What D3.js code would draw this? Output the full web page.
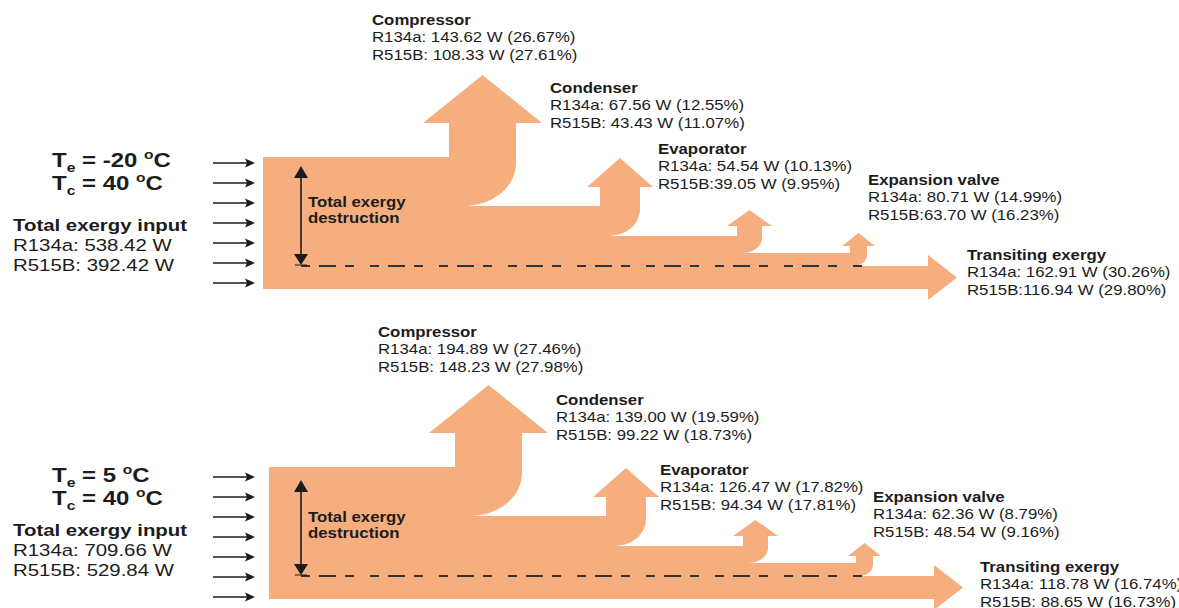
<!DOCTYPE html>
<html>
<head>
<meta charset="utf-8">
<script src="https://cdn.jsdelivr.net/npm/d3@7"></script>
<style>
  body { margin: 0; background: #fff; }
  svg { display: block; }
</style>
</head>
<body>
<div id="chart"></div>
<script>
// exergy destruction per component, two evaporating temperatures
let stages = ['Compressor', 'Condenser', 'Evaporator', 'Expansion valve', 'Transiting exergy']
let evapTemps = [-20, 5]
let condTemp = 40
let inputR134a = [538.42, 709.66]
let inputR515B = [392.42, 529.84]

let lowR134a = [143.62, 67.56, 54.54, 80.71, 162.91]
let lowR134aPct = [26.67, 12.55, 10.13, 14.99, 30.26]
let lowR515B = [108.33, 43.43, 39.05, 63.70, 116.94]
let lowR515BPct = [27.61, 11.07, 9.95, 16.23, 29.80]

let highR134a = [194.89, 139.00, 126.47, 62.36, 118.78]
let highR134aPct = [27.46, 19.59, 17.82, 8.79, 16.74]
let highR515B = [148.23, 99.22, 94.34, 48.54, 88.65]
let highR515BPct = [27.98, 18.73, 17.81, 9.16, 16.73]

let width = 1179
let height = 608
let fill = '#f7ae7e'
let ink = '#1c1c1c'
let font = '"Liberation Sans", Arial, sans-serif'
let stretch = 1.2

// schematic shape of the band (not to scale in the original either)
let blockH = 132
let branches = [
  { x: 186, w: 67, drop: 49, over: 26, head: 48, rise: 34 },
  { x: 337, w: 40, drop: 30, over: 13, head: 29, rise: 19 },
  { x: 474, w: 25, drop: 17, over: 10, head: 16, rise: 10 },
  { x: 587, w: 17, drop: 13, over: 8, head: 13, rise: 7 }
]
let transit = { base: 665, tip: 694, over: 11 }

let panels = [
  {
    ox: 263, oy: 157, te: evapTemps[0], input: [inputR134a[0], inputR515B[0]],
    a: lowR134a, aPct: lowR134aPct, b: lowR515B, bPct: lowR515BPct,
    sep: [' ', ' ', '', '', ''],
    labels: [[109, -132], [287, -64], [395, -3], [605, 28], [704, 103]],
    teY: 167, totalY: 231, arrowY: 163, destY: 207, dashEnd: 599
  },
  {
    ox: 269, oy: 467, te: evapTemps[1], input: [inputR134a[1], inputR515B[1]],
    a: highR134a, aPct: highR134aPct, b: highR515B, bPct: highR515BPct,
    sep: [' ', ' ', ' ', ' ', ' '],
    labels: [[109, -130], [287, -62], [391, 8], [604, 35], [711, 105]],
    teY: 482, totalY: 536, arrowY: 477, destY: 522, dashEnd: 597
  }
]

let fmt = d3.format('.2f')

let svg = d3
  .select('#chart')
  .append('svg')
  .attr('width', width)
  .attr('height', height)
  .style('font-family', font)

svg.append('rect').attr('width', width).attr('height', height).attr('fill', '#fff')

function addText(g, x, y, lines, size, weight, gap) {
  let t = g
    .append('text')
    .attr('transform', 'translate(' + x + ',' + y + ') scale(' + stretch + ',1)')
    .attr('font-size', size)
    .attr('font-weight', weight || 'normal')
    .attr('fill', ink)
  lines.forEach((s, i) => {
    t.append('tspan')
      .attr('x', 0)
      .attr('y', i * (gap || 0))
      .attr('font-weight', typeof s === 'object' ? s.weight : null)
      .text(typeof s === 'object' ? s.text : s)
  })
  return t
}

function tempLine(g, x, y, sub, value) {
  let t = g
    .append('text')
    .attr('transform', 'translate(' + x + ',' + y + ') scale(' + stretch + ',1)')
    .attr('font-size', 20)
    .attr('font-weight', 'bold')
    .attr('fill', ink)
  t.append('tspan').text('T')
  t.append('tspan').attr('font-size', 13).attr('dy', 5).text(sub)
  t.append('tspan').attr('dy', -5).text(' = ' + value + ' ')
  t.append('tspan').attr('font-size', 13).attr('dy', -8).text('o')
  t.append('tspan').attr('dy', 8).text('C')
}

panels.forEach(p => {
  let x = d3.scaleLinear().domain([0, 700]).range([p.ox, p.ox + 700])
  let y = d3.scaleLinear().domain([0, blockH]).range([p.oy, p.oy + blockH])
  let g = svg.append('g')

  // the band with its branching arrows
  let path = d3.path()
  let k = 0.5523
  let top = 0
  path.moveTo(x(0), y(0))
  branches.forEach(b => {
    let L = b.x
    let R = b.x + b.w
    let base = top - b.rise
    let newTop = top + b.drop
    let rx = b.w * 0.78
    let ry = b.drop * 0.88
    path.lineTo(x(L), y(top))
    path.lineTo(x(L), y(base))
    path.lineTo(x(L - b.over), y(base))
    path.lineTo(x(L + b.w / 2), y(base - b.head))
    path.lineTo(x(R + b.over), y(base))
    path.lineTo(x(R), y(base))
    path.lineTo(x(R), y(newTop - ry))
    path.bezierCurveTo(
      x(R), y(newTop - ry + k * ry),
      x(R - rx + k * rx), y(newTop),
      x(R - rx), y(newTop)
    )
    top = newTop
  })
  path.lineTo(x(transit.base), y(top))
  path.lineTo(x(transit.base), y(top - transit.over))
  path.lineTo(x(transit.tip), y((top + blockH) / 2))
  path.lineTo(x(transit.base), y(blockH + transit.over))
  path.lineTo(x(transit.base), y(blockH))
  path.lineTo(x(0), y(blockH))
  path.closePath()

  g.append('path').attr('d', path.toString()).attr('fill', fill)

  // dashed split between destruction and transiting exergy
  g.append('line')
    .attr('x1', 301)
    .attr('x2', x(p.dashEnd))
    .attr('y1', y(top))
    .attr('y2', y(top))
    .attr('stroke', '#333')
    .attr('stroke-width', 2)
    .attr('stroke-dasharray', '9,9,17,9,9,16')

  // double arrow for total destruction
  let ay1 = p.arrowY + 3
  let ay2 = y(top) - 1
  g.append('line')
    .attr('x1', 301).attr('x2', 301)
    .attr('y1', ay1 + 8).attr('y2', ay2 - 8)
    .attr('stroke', ink).attr('stroke-width', 1.6)
  g.append('path')
    .attr('d', `M301,${ay1} L308,${ay1 + 12} L294,${ay1 + 12} Z M301,${ay2} L308,${ay2 - 11} L294,${ay2 - 11} Z`)
    .attr('fill', ink)
  g.append('line')
    .attr('x1', 295).attr('x2', 307)
    .attr('y1', ay2).attr('y2', ay2)
    .attr('stroke', ink).attr('stroke-width', 1)

  addText(g, 308, p.destY, ['Total exergy', 'destruction'], 14, 'bold', 16)

  // input arrows
  d3.range(7).forEach(i => {
    let ya = p.arrowY + i * 20
    g.append('line')
      .attr('x1', 213).attr('x2', 250)
      .attr('y1', ya).attr('y2', ya)
      .attr('stroke', ink).attr('stroke-width', 1.5)
    g.append('path')
      .attr('d', `M255,${ya} L245,${ya - 4.5} L247,${ya} L245,${ya + 4.5} Z`)
      .attr('fill', ink)
  })

  // left side text
  tempLine(g, 52, p.teY, 'e', p.te)
  tempLine(g, 52, p.teY + 23, 'c', condTemp)
  addText(g, 13, p.totalY, [
    { text: 'Total exergy input', weight: 'bold' },
    'R134a: ' + fmt(p.input[0]) + ' W',
    'R515B: ' + fmt(p.input[1]) + ' W'
  ], 17, 'normal', 20)

  // component labels
  stages.forEach((s, i) => {
    let pos = p.labels[i]
    addText(g, x(pos[0]), y(0) + pos[1], [
      { text: s, weight: 'bold' },
      'R134a: ' + fmt(p.a[i]) + ' W (' + fmt(p.aPct[i]) + '%)',
      'R515B:' + p.sep[i] + fmt(p.b[i]) + ' W (' + fmt(p.bPct[i]) + '%)'
    ], 14, 'normal', 17.5)
  })
})
</script>
</body>
</html>
